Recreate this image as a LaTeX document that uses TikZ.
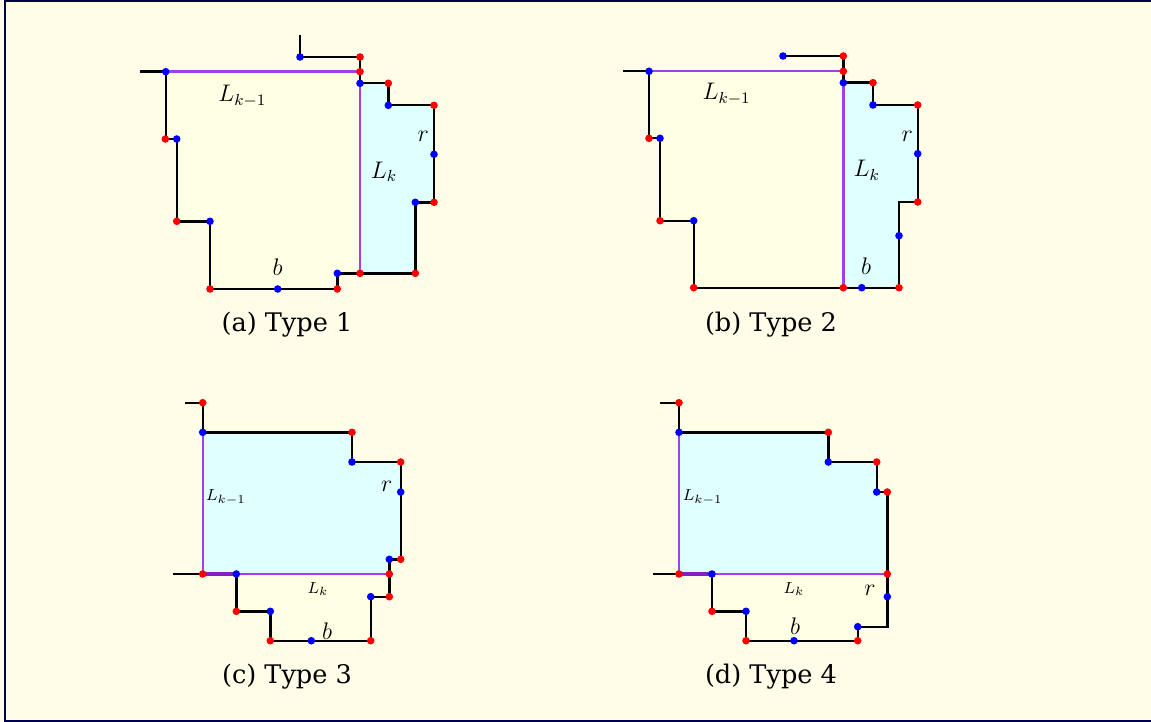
\documentclass[tikz,border=0pt]{standalone}
\usepackage{fontspec}
\newfontfamily\capfont{DejaVu Serif}
\definecolor{bgcol}{HTML}{FFFCE8}
\definecolor{framecol}{HTML}{000050}
\definecolor{yfill}{HTML}{FFFFE4}
\definecolor{cfill}{HTML}{E0FFFF}
\definecolor{purp}{HTML}{A040E8}
\definecolor{dpurp}{HTML}{8020C0}
\tikzset{
  edge/.style={black, line width=1.2pt},
  pline/.style={purp, line width=1.2pt},
  pthick/.style={dpurp, line width=1.8pt},
  yreg/.style={fill=yfill},
  creg/.style={fill=cfill},
  lab/.style={inner sep=0pt, font=\fontsize{12}{13}\selectfont},
  slab/.style={inner sep=0pt, font=\fontsize{8.5}{9}\selectfont},
  captext/.style={inner sep=0pt, font=\capfont\fontsize{12.8}{14}\selectfont},
}
\newcommand{\rdots}[1]{\foreach \p in {#1} \fill[red] \p circle (1.9pt);}
\newcommand{\bdots}[1]{\foreach \p in {#1} \fill[blue] \p circle (1.9pt);}
\begin{document}
\begin{tikzpicture}[x=0.5pt,y=-0.5pt]
\useasboundingbox (0,0) rectangle (1151,722);
\fill[bgcol] (0,0) rectangle (1151,722);
\begin{scope}
\clip (0,0) rectangle (1151,722);
\draw[framecol, line width=1pt] (5,1.5) rectangle (1165,720.5);
\end{scope}

% ---------- (a) ----------
\fill[yreg] (165.7,71.7) -- (360,71.7) -- (360,273.3) -- (337.3,273.3) -- (337.3,289) -- (210,289) -- (210,221.3) -- (176.7,221.3) -- (176.7,139) -- (165.7,139) -- cycle;
\fill[creg] (360,83.3) -- (388.3,83.3) -- (388.3,105.3) -- (434,105.3) -- (434,202.3) -- (415.3,202.3) -- (415.3,273.3) -- (360,273.3) -- cycle;
\draw[edge] (300,35) -- (300,57) -- (360,57) -- (360,83.3);
\draw[edge] (140,71.7) -- (165.7,71.7);
\draw[edge] (360,83.3) -- (388.3,83.3) -- (388.3,105.3) -- (434,105.3) -- (434,202.3) -- (415.3,202.3) -- (415.3,273.3) -- (360,273.3) -- (337.3,273.3) -- (337.3,289) -- (210,289) -- (210,221.3) -- (176.7,221.3) -- (176.7,139) -- (165.7,139) -- (165.7,71.7);
\draw[pline] (165.7,71.7) -- (360,71.7);
\draw[pline] (360,83.3) -- (360,273.3);
\rdots{(360,57),(360,71.7),(388.3,83.3),(434,105.3),(434,202.3),(415.3,273.3),(360,273.3),(337.3,289),(210,289),(176.7,221.3),(165.3,139)}
\bdots{(300,57),(165.7,71.7),(360,83.3),(388.3,105.3),(434,154.3),(415.3,202.3),(337.3,273.3),(277.7,289),(210,221.3),(176.7,139)}
\node[lab] (aL1) at (242.3,96) {$L_{k-1}$};
\node[lab] (aL2) at (384,172) {$L_k$};
\node[lab] (ar) at (423.3,136) {$r$};
\node[lab] (ab) at (277.7,267) {$b$};
\node[captext] (acap) at (287,325) {(a) Type 1};

% ---------- (b) ----------
\fill[yreg] (649,71.3) -- (843.3,71.3) -- (843.3,287.7) -- (693.7,287.7) -- (693.7,220.7) -- (660,220.7) -- (660,138.3) -- (649,138.3) -- cycle;
\fill[creg] (843.3,82.7) -- (873,82.7) -- (873,105) -- (917.7,105) -- (917.7,202) -- (899,202) -- (899,287.7) -- (843.3,287.7) -- cycle;
\draw[edge] (783,56) -- (843.3,56) -- (843.3,82.7);
\draw[edge] (623.3,71.3) -- (649,71.3);
\draw[edge] (843.3,82.7) -- (873,82.7) -- (873,105) -- (917.7,105) -- (917.7,202) -- (899,202) -- (899,287.7) -- (693.7,287.7) -- (693.7,220.7) -- (660,220.7) -- (660,138.3) -- (649,138.3) -- (649,71.3);
\draw[pline] (649,71.3) -- (843.3,71.3);
\draw[pline] (843.3,82.7) -- (843.3,287.7);
\rdots{(843.3,56),(843.3,71.3),(873,82.7),(917.7,105),(917.7,202),(899,287.7),(843.3,287.7),(693.7,287.7),(660,220.7),(649,138.3)}
\bdots{(783,56),(649,71.3),(843.3,82.7),(873,105),(917.7,153.7),(899,235.7),(861.7,287.7),(693.7,220.7),(660,138.3)}
\node[lab] (bL1) at (726.7,94) {$L_{k-1}$};
\node[lab] (bL2) at (866.7,170) {$L_k$};
\node[lab] (br) at (907.3,136) {$r$};
\node[lab] (bb) at (866,266) {$b$};
\node[captext] (bcap) at (771,325) {(b) Type 2};

% ---------- (c) ----------
\fill[creg] (202.7,432.3) -- (352,432.3) -- (352,462) -- (400.7,462) -- (400.7,559.3) -- (389.3,559.3) -- (389.3,574) -- (202.7,574) -- cycle;
\fill[yreg] (236.3,574) -- (389.3,574) -- (389.3,596.7) -- (370.7,596.7) -- (370.7,640.7) -- (270.3,640.7) -- (270.3,611.3) -- (236.3,611.3) -- cycle;
\draw[edge] (185,402.7) -- (202.7,402.7) -- (202.7,432.3) -- (352,432.3) -- (352,462) -- (400.7,462) -- (400.7,559.3) -- (389.3,559.3) -- (389.3,574);
\draw[edge] (173.3,574) -- (202.7,574);
\draw[edge] (389.3,574) -- (389.3,596.7) -- (370.7,596.7) -- (370.7,640.7) -- (270.3,640.7) -- (270.3,611.3) -- (236.3,611.3) -- (236.3,574);
\draw[pline] (202.7,432.3) -- (202.7,574) -- (389.3,574);
\draw[pthick] (202.7,574) -- (236.3,574);
\rdots{(202.7,402.7),(352,432.3),(400.7,462),(400.7,559.3),(389.3,574),(389.3,596.7),(370.7,640.7),(270.3,640.7),(236.3,611.3),(202.7,574)}
\bdots{(202.7,432.3),(352,462),(400.7,492),(389.3,559.3),(236.3,574),(370.7,596.7),(311.3,640.7),(270.3,611.3)}
\node[slab] (cL1) at (226,497) {$L_{k-1}$};
\node[slab] (cL2) at (318,589) {$L_k$};
\node[lab] (cr) at (386.7,486) {$r$};
\node[lab] (cb) at (327,631) {$b$};
\node[captext] (ccap) at (287,677) {(c) Type 3};

% ---------- (d) ----------
\fill[creg] (679,432.3) -- (828.3,432.3) -- (828.3,462) -- (876.7,462) -- (876.7,492) -- (887.3,492) -- (887.3,574) -- (679,574) -- cycle;
\fill[yreg] (712,574) -- (887.3,574) -- (887.3,626.7) -- (857.7,626.7) -- (857.7,640.7) -- (746,640.7) -- (746,611.3) -- (712,611.3) -- cycle;
\draw[edge] (660,402.7) -- (679,402.7) -- (679,432.3) -- (828.3,432.3) -- (828.3,462) -- (876.7,462) -- (876.7,492) -- (887.3,492) -- (887.3,626.7) -- (857.7,626.7) -- (857.7,640.7) -- (746,640.7) -- (746,611.3) -- (712,611.3) -- (712,574);
\draw[edge] (652.7,574) -- (679,574);
\draw[pline] (679,432.3) -- (679,574) -- (887.3,574);
\draw[pthick] (679,574) -- (712,574);
\rdots{(679,402.7),(828.3,432.3),(876.7,462),(887.3,492),(887.3,574),(857.7,640.7),(746,640.7),(712,611.3),(679,574)}
\bdots{(679,432.3),(828.3,462),(876.7,492),(887.3,596.7),(857.7,626.7),(794,640.7),(746,611.3),(712,574)}
\node[slab] (dL1) at (702.7,497) {$L_{k-1}$};
\node[slab] (dL2) at (794,589) {$L_k$};
\node[lab] (dr) at (870,590) {$r$};
\node[lab] (db) at (795,626) {$b$};
\node[captext] (dcap) at (771,677) {(d) Type 4};
\end{tikzpicture}
\end{document}
